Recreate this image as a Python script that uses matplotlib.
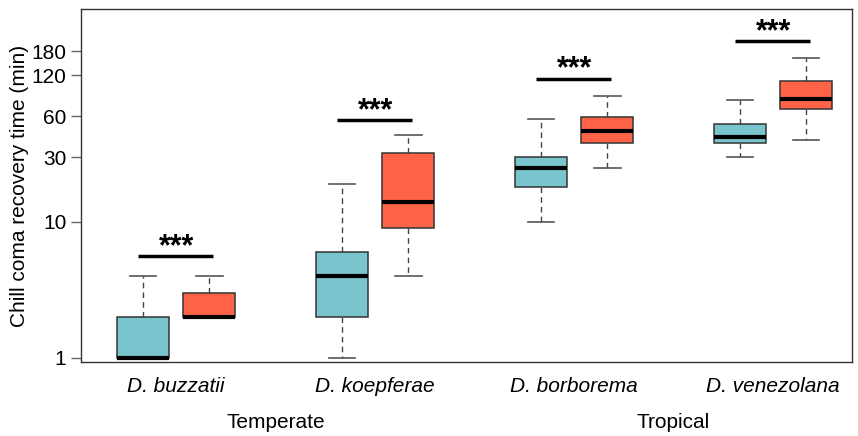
import matplotlib
matplotlib.use('Agg')
import matplotlib.pyplot as plt
import matplotlib.transforms as mtransforms
import numpy as np

plt.rcParams['font.family'] = ['Liberation Sans', 'DejaVu Sans']

# Data, order: species x [cold-blue, red] treatment
species = ['D. buzzatii', 'D. koepferae', 'D. borborema', 'D. venezolana']
groups = ['Temperate', 'Tropical']
whislo = [1, 2, 1, 4, 10, 25, 30, 40]
q1 = [1, 2, 2, 9, 18, 38, 38, 68]
med = [1, 2, 4, 14, 25, 47, 42, 80]
q3 = [2, 3, 6, 32, 30, 59, 53, 109]
whishi = [4, 4, 19, 44, 57, 84, 79, 161]
sig_y = [5.6, 56, 113, 214]
sig_labels = ['***', '***', '***', '***']
yticks = [1, 10, 30, 60, 120, 180]

colors = ['#7AC5CD', '#FF6347']

fig = plt.figure(figsize=(8.58, 4.36), dpi=100)
ax = fig.add_axes([0.0944, 0.170, 0.8986, 0.809])

positions = []
for i in range(len(species)):
    positions += [3 * i + 1, 3 * i + 2]

stats = []
for k in range(len(med)):
    stats.append(dict(med=med[k], q1=q1[k], q3=q3[k],
                      whislo=whislo[k], whishi=whishi[k], fliers=[]))

bp = ax.bxp(stats, positions=positions, widths=0.78, patch_artist=True,
            showfliers=False, capwidths=0.4,
            boxprops=dict(edgecolor='#333333', linewidth=1.1),
            medianprops=dict(color='black', linewidth=3, solid_capstyle='butt'),
            whiskerprops=dict(color='#444444', linewidth=1, linestyle=(0, (4, 3))),
            capprops=dict(color='#555555', linewidth=1.2))
for k, box in enumerate(bp['boxes']):
    box.set_facecolor(colors[k % 2])

# significance bars
for i, (y, lab) in enumerate(zip(sig_y, sig_labels)):
    p = positions[2 * i]
    ax.plot([p - 0.07, p + 1.06], [y, y], color='black', lw=2.5,
            solid_capstyle='butt')
    ax.annotate(lab, (p + 0.5, y), xytext=(0, 1), textcoords='offset points',
                ha='center', va='baseline', fontsize=22, fontweight='bold')

ax.set_yscale('log')
ax.set_ylim(0.935, 368)
ax.set_xlim(0.065, 11.69)
ax.set_yticks(yticks)
ax.set_yticklabels([str(t) for t in yticks])
ax.yaxis.set_minor_locator(matplotlib.ticker.NullLocator())
ax.tick_params(axis='y', labelsize=15, length=7, color='#666666', width=1)

centers = [positions[2 * i] + 0.5 for i in range(len(species))]
ax.set_xticks(centers)
ax.set_xticklabels(species, style='italic', fontsize=15)
ax.tick_params(axis='x', length=0, pad=11)

trans = mtransforms.blended_transform_factory(ax.transData, ax.transAxes)
for j, g in enumerate(groups):
    gx = (centers[2 * j] + centers[2 * j + 1]) / 2
    ax.text(gx, -0.173, g, transform=trans, ha='center', va='center',
            fontsize=15)

ax.set_ylabel('Chill coma recovery time (min)', fontsize=15, labelpad=2)

for s in ax.spines.values():
    s.set_color('#333333')
    s.set_linewidth(1)

fig.savefig('out.png', dpi=100)
